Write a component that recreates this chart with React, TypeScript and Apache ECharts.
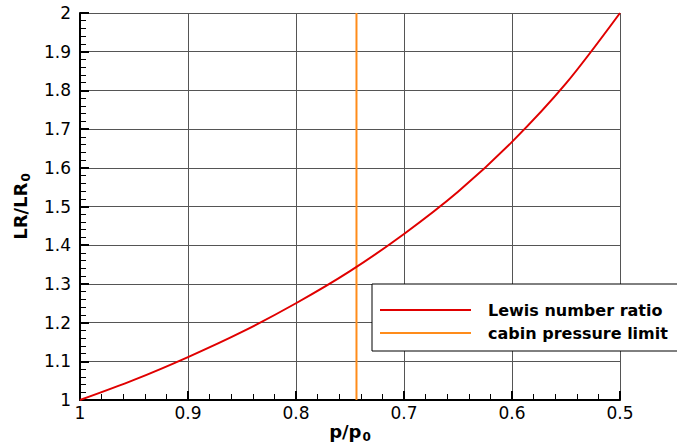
import React, { useEffect, useRef } from "react";
import * as echarts from "echarts";

const pressureRatio = [1.0, 0.95, 0.9, 0.85, 0.8, 0.75, 0.7, 0.65, 0.6, 0.55, 0.5];
const lewisRatio = [1.0, 1.052, 1.111, 1.176, 1.25, 1.333, 1.429, 1.538, 1.667, 1.818, 2.0];
const cabinLimit = 0.744;
const yRange = [1, 2];
const seriesNames = ["Lewis number ratio", "cabin pressure limit"];

const FONT = "'DejaVu Sans', Verdana, sans-serif";
const RED = "#e00000";
const ORANGE = "#ff8c1a";

export default function App() {
  const ref = useRef<HTMLDivElement>(null);
  useEffect(() => {
    if (!ref.current) return;
    const chart = echarts.init(ref.current, undefined, { renderer: "svg" });
    const lewisData = pressureRatio.map((p, i) => [p, lewisRatio[i]]);
    const limitData = yRange.map((y) => [cabinLimit, y]);
    const legendTop = 284;
    const legendLeft = 372;
    const titleRich = {
      b: { fontSize: 18, fontWeight: "bold", color: "#000", fontFamily: FONT },
      s: { fontSize: 12, fontWeight: "bold", color: "#000", fontFamily: FONT, padding: [12, 0, 0, 1] },
    };
    chart.setOption({
      animation: false,
      grid: { left: 80, right: 57, top: 13, bottom: 46, containLabel: false, outerBoundsMode: "none" },
      xAxis: {
        type: "value",
        inverse: true,
        min: 0.5,
        max: 1,
        interval: 0.1,
        name: "{b|p/p}{s|0}",
        nameLocation: "middle",
        nameGap: 19,
        nameMoveOverlap: false,
        nameTextStyle: { rich: titleRich },
        axisLine: { show: true, onZero: false, lineStyle: { color: "#000", width: 2 } },
        axisTick: { show: true, inside: true, length: 9, lineStyle: { color: "#000", width: 2 } },
        minorTick: { show: true, splitNumber: 5, length: 6, lineStyle: { color: "#000", width: 1 } },
        axisLabel: { color: "#000", fontSize: 17, fontFamily: FONT, margin: 4 },
        splitLine: { show: true, lineStyle: { color: "#555", width: 1 } },
      },
      yAxis: {
        type: "value",
        min: 1,
        max: 2,
        interval: 0.1,
        name: "{b|LR/LR}{s|0}",
        nameLocation: "middle",
        nameRotate: 90,
        nameGap: 48,
        nameMoveOverlap: false,
        nameTextStyle: { rich: titleRich },
        axisLine: { show: true, onZero: false, lineStyle: { color: "#000", width: 2 } },
        axisTick: { show: true, inside: true, length: 9, lineStyle: { color: "#000", width: 2 } },
        minorTick: { show: true, splitNumber: 5, length: 6, lineStyle: { color: "#000", width: 1 } },
        axisLabel: { color: "#000", fontSize: 17, fontFamily: FONT, margin: 9 },
        splitLine: { show: true, lineStyle: { color: "#555", width: 1 } },
      },
      series: [
        {
          name: seriesNames[0],
          type: "line",
          data: lewisData,
          showSymbol: false,
          smooth: 0.3,
          lineStyle: { color: RED, width: 2 },
          z: 3,
        },
        {
          name: seriesNames[1],
          type: "line",
          data: limitData,
          showSymbol: false,
          lineStyle: { color: ORANGE, width: 2 },
          z: 2,
        },
      ],
      graphic: [
        {
          type: "rect",
          z: 100,
          shape: { x: legendLeft, y: legendTop, width: 400, height: 67 },
          style: { fill: "#fff", stroke: "#000", lineWidth: 1 },
        },
        {
          type: "line",
          z: 101,
          shape: { x1: 380, y1: legendTop + 26, x2: 471, y2: legendTop + 26 },
          style: { stroke: RED, lineWidth: 2 },
        },
        {
          type: "line",
          z: 101,
          shape: { x1: 380, y1: legendTop + 49, x2: 471, y2: legendTop + 49 },
          style: { stroke: ORANGE, lineWidth: 2 },
        },
        {
          type: "text",
          z: 101,
          x: 488,
          y: legendTop + 26,
          style: {
            text: seriesNames[0],
            fill: "#000",
            font: `bold 16px ${FONT}`,
            verticalAlign: "middle",
          },
        },
        {
          type: "text",
          z: 101,
          x: 488,
          y: legendTop + 49,
          style: {
            text: seriesNames[1],
            fill: "#000",
            font: `bold 16px ${FONT}`,
            verticalAlign: "middle",
          },
        },
      ],
    });
    return () => chart.dispose();
  }, []);
  return (
    <div
      ref={ref}
      style={{ position: "fixed", left: 0, top: 0, width: 677, height: 446, background: "#fff" }}
    />
  );
}
